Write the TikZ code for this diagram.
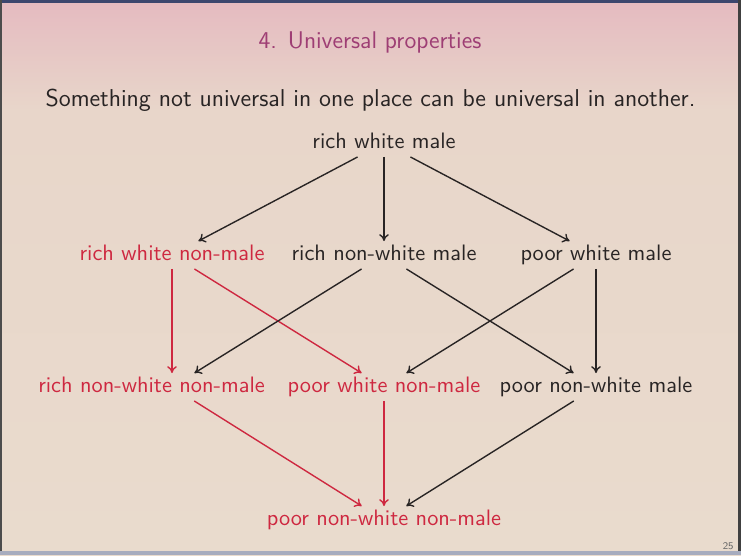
\documentclass[tikz,border=0pt]{standalone}
\usepackage{fontspec}
\usetikzlibrary{arrows.meta}
\definecolor{bgtop}{RGB}{229,186,192}
\definecolor{bgmid}{RGB}{232,214,202}
\definecolor{bgbot}{RGB}{233,219,205}
\definecolor{txt}{RGB}{40,36,36}
\definecolor{hl}{RGB}{206,40,64}
\definecolor{ttl}{RGB}{158,62,116}
\definecolor{edgeblue}{RGB}{60,70,110}
\tikzset{
  lab/.style={font=\sffamily\fontsize{10.95}{13}\selectfont, text=txt, text height=7.5pt, text depth=2pt, inner xsep=2pt, inner ysep=1.9pt},
  hlab/.style={lab, text=hl},
  arr/.style={-{To[length=3.4pt,width=4.8pt]}, line width=0.68pt, draw=txt},
  harr/.style={arr, draw=hl},
}
\begin{document}
\begin{tikzpicture}[x=0.4903pt,y=-0.4903pt]
\useasboundingbox (0,0) rectangle (741,555);
% background
\shade[top color=bgtop, bottom color=bgmid] (0,0) rectangle (741,110);
\shade[top color=bgmid, bottom color=bgbot] (0,110) rectangle (741,555);
% frame edges
\fill[edgeblue] (0,0) rectangle (741,3);
\fill[black!70] (0,0) rectangle (2,555);
\fill[black!75] (738,0) rectangle (741,555);
\fill[edgeblue!45] (0,551) rectangle (741,555);
% title and text
\node[anchor=base, font=\sffamily\fontsize{11.85}{14}\selectfont, text=ttl, inner sep=0pt] (title) at (370,48.3) {4.\hspace{0.45em}Universal properties};
\node[anchor=base, font=\sffamily\fontsize{11.95}{14}\selectfont, text=txt, inner sep=0pt] (body) at (370.5,106.7) {Something not universal in one place can be universal in another.};
\node[anchor=base east, font=\sffamily\fontsize{5}{6}\selectfont, text=black!60, inner sep=0pt] (page) at (734,549) {25};
% lattice nodes
\node[lab]  (rwm)   at (384,143) {rich white male};
\node[hlab] (rwnm)  at (172,255) {rich white non-male};
\node[lab]  (rnwm)  at (384,255) {rich non-white male};
\node[lab]  (pwm)   at (596,255) {poor white male};
\node[hlab] (rnwnm) at (172,387) {\makebox[91pt][r]{rich non-white non-male}};
\node[hlab] (pwnm)  at (384,387) {poor white non-male};
\node[lab]  (pnwm)  at (596,387) {poor non-white male};
\node[hlab] (pnwnm) at (384,520) {poor non-white non-male};
% arrows
\draw[arr] (rwm) -- (rwnm);
\draw[arr] (rwm) -- (rnwm);
\draw[arr] (rwm) -- (pwm);
\draw[harr] (rwnm) -- (rnwnm);
\draw[harr] (rwnm) -- (pwnm);
\draw[arr] (rnwm) -- (rnwnm);
\draw[arr] (rnwm) -- (pnwm);
\draw[arr] (pwm) -- (pwnm);
\draw[arr] (pwm) -- (pnwm);
\draw[harr] (rnwnm) -- (pnwnm);
\draw[harr] (pwnm) -- (pnwnm);
\draw[arr] (pnwm) -- (pnwnm);
\end{tikzpicture}
\end{document}
